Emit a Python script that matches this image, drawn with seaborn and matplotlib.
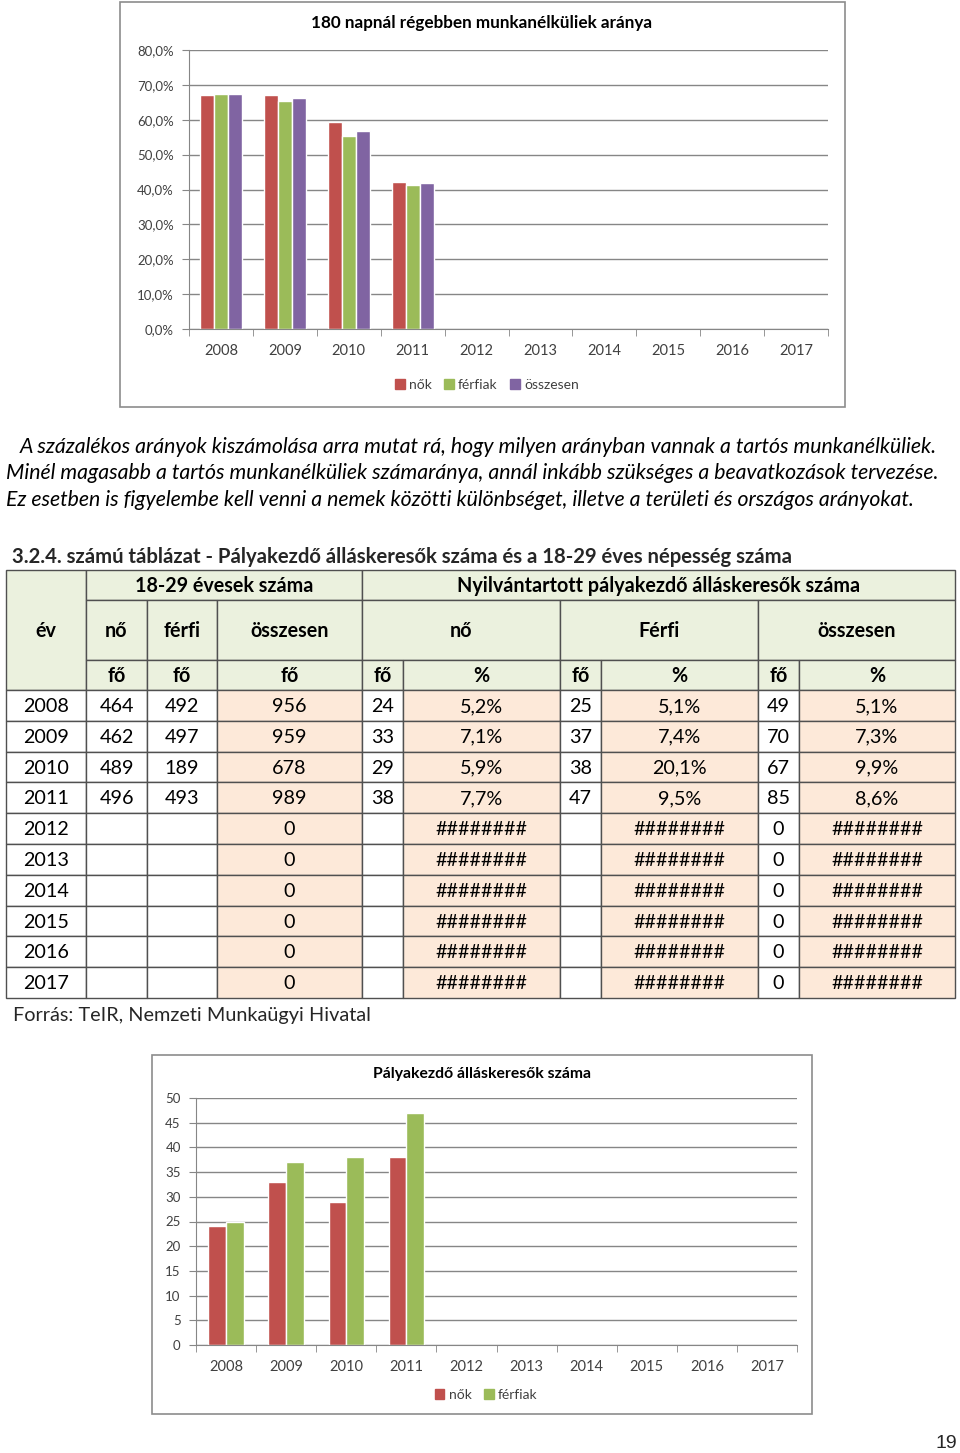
import numpy as np
import pandas as pd
import matplotlib
matplotlib.use('Agg')
import matplotlib.pyplot as plt
import seaborn as sns
from matplotlib.patches import Rectangle, Patch
from matplotlib.ticker import FuncFormatter

# DATA
years = ['2008', '2009', '2010', '2011', '2012', '2013', '2014', '2015', '2016', '2017']
data_years = years[:4]

# 180 napnal regebben munkanelkuliek aranya (%)
tartos_nok = [67.1, 67.0, 59.3, 42.2]
tartos_ferfiak = [67.5, 65.4, 55.2, 41.4]
tartos_osszesen = [67.4, 66.2, 56.9, 41.9]

# 18-29 evesek szama
nep_no = [464, 462, 489, 496]
nep_ferfi = [492, 497, 189, 493]
nep_osszesen = [956, 959, 678, 989, 0, 0, 0, 0, 0, 0]

# palyakezdo allaskeresok
pk_no = [24, 33, 29, 38]
pk_no_pct = [5.2, 7.1, 5.9, 7.7]
pk_ferfi = [25, 37, 38, 47]
pk_ferfi_pct = [5.1, 7.4, 20.1, 9.5]
pk_osszesen = [49, 70, 67, 85, 0, 0, 0, 0, 0, 0]
pk_osszesen_pct = [5.1, 7.3, 9.9, 8.6]

RED = '#C0504D'
GREEN = '#9BBB59'
PURPLE = '#8064A2'
GRAY = '#868686'
TXT = '#404040'

sns.set_style('white')
plt.rcParams['font.family'] = ['Lato', 'DejaVu Sans']

W, H = 960, 1453
fig = plt.figure(figsize=(W / 100, H / 100), dpi=100)

# page layer in pixel coordinates
page = fig.add_axes([0, 0, 1, 1])
page.set_xlim(0, W)
page.set_ylim(H, 0)
page.axis('off')


def chart(left, right, top, bottom, df, series, colors, ymax, ystep, fmt, width):
    ax = fig.add_axes([left / W, 1 - bottom / H, (right - left) / W, (bottom - top) / H])
    sns.barplot(data=df, x='ev', y='ertek', hue='sorozat', order=years, hue_order=series,
                palette=colors, saturation=1, width=width, errorbar=None, ax=ax, legend=False)
    ax.set_xlim(-0.5, len(years) - 0.5)
    ax.set_ylim(0, ymax)
    ax.set_yticks(np.arange(0, ymax + ystep / 2, ystep))
    ax.yaxis.set_major_formatter(FuncFormatter(fmt))
    ax.set_xticks(np.arange(-0.5, len(years)), minor=True)
    ax.tick_params(axis='x', which='major', length=0, pad=11, labelsize=10.5, labelcolor=TXT)
    ax.tick_params(axis='x', which='minor', length=5, color=GRAY, direction='out', bottom=True)
    ax.tick_params(axis='y', length=5, color=GRAY, direction='out', left=True,
                   labelsize=9.5, labelcolor=TXT, pad=6)
    ax.yaxis.grid(True, color=GRAY, lw=1)
    ax.set_axisbelow(True)
    for s in ['top', 'right']:
        ax.spines[s].set_visible(False)
    for s in ['left', 'bottom']:
        ax.spines[s].set_color(GRAY)
    ax.set_xlabel('')
    ax.set_ylabel('')
    return ax


# ---- chart 1
df1 = pd.DataFrame({
    'ev': data_years * 3,
    'ertek': tartos_nok + tartos_ferfiak + tartos_osszesen,
    'sorozat': ['nők'] * 4 + ['férfiak'] * 4 + ['összesen'] * 4,
})
page.add_patch(Rectangle((120, 2), 725, 405, fc='white', ec='#8c8c8c', lw=1.2))
chart(189, 828, 50, 329, df1, ['nők', 'férfiak', 'összesen'], [RED, GREEN, PURPLE],
      80, 10, lambda v, p: f'{v:.1f}%'.replace('.', ','), 0.66)
page.text(482, 23, '180 napnál régebben munkanélküliek aránya', ha='center', va='center',
          fontsize=12.3, fontweight='bold', color='black')
fig.legend([Patch(color=c) for c in [RED, GREEN, PURPLE]], ['nők', 'férfiak', 'összesen'],
           loc='center', bbox_to_anchor=(487 / W, 1 - 385 / H), ncol=3, frameon=False,
           handlelength=0.7, handleheight=0.7, handletextpad=0.3, columnspacing=0.9,
           fontsize=10, labelcolor=TXT)

# ---- paragraph
par = [
    (20, 447, 'A százalékos arányok kiszámolása arra mutat rá, hogy milyen arányban vannak a tartós munkanélküliek.'),
    (6, 473, 'Minél magasabb a tartós munkanélküliek számaránya, annál inkább szükséges a beavatkozások tervezése.'),
    (6, 500, 'Ez esetben is figyelembe kell venni a nemek közötti különbséget, illetve a területi és országos arányokat.'),
]
for x, y, s in par:
    page.text(x, y, s, ha='left', va='center', fontsize=15.3, style='italic', color='black')

# ---- table
page.text(12, 557, '3.2.4. számú táblázat - Pályakezdő álláskeresők száma és a 18-29 éves népesség száma',
          ha='left', va='center', fontsize=14.6, fontweight='bold')

HEAD = '#EBF1DE'
PEACH = '#FDE9D9'
LINE = '#505050'
cx = [6, 86, 147, 217, 362, 403, 560, 601, 758, 799, 955]


def cell(x0, x1, y0, y1, fc, s='', bold=False):
    page.add_patch(Rectangle((x0, y0), x1 - x0, y1 - y0, fc=fc, ec=LINE, lw=1))
    if s != '':
        page.text((x0 + x1) / 2, (y0 + y1) / 2 + 1, s, ha='center', va='center',
                  fontsize=14.2, fontweight='bold' if bold else 'normal', color='black')


cell(cx[0], cx[1], 570, 690, HEAD, 'év', True)
cell(cx[1], cx[4], 570, 600, HEAD, '18-29 évesek száma', True)
cell(cx[4], cx[10], 570, 600, HEAD, 'Nyilvántartott pályakezdő álláskeresők száma', True)
for (a, b), s in zip([(1, 2), (2, 3), (3, 4), (4, 6), (6, 8), (8, 10)],
                     ['nő', 'férfi', 'összesen', 'nő', 'Férfi', 'összesen']):
    cell(cx[a], cx[b], 600, 660, HEAD, s, True)
for i, s in enumerate(['fő', 'fő', 'fő', 'fő', '%', 'fő', '%', 'fő', '%']):
    cell(cx[i + 1], cx[i + 2], 660, 690, HEAD, s, True)


def num(lst, i):
    return str(lst[i]) if i < len(lst) else ''


def pct(lst, i):
    return f'{lst[i]:.1f}%'.replace('.', ',') if i < len(lst) else '########'


row_h = (998 - 690) / len(years)
for i, yr in enumerate(years):
    y0 = 690 + i * row_h
    y1 = y0 + row_h
    vals = [yr, num(nep_no, i), num(nep_ferfi, i), num(nep_osszesen, i),
            num(pk_no, i), pct(pk_no_pct, i), num(pk_ferfi, i), pct(pk_ferfi_pct, i),
            num(pk_osszesen, i), pct(pk_osszesen_pct, i)]
    for j, v in enumerate(vals):
        fc = PEACH if j in (3, 5, 7, 9) else 'white'
        cell(cx[j], cx[j + 1], y0, y1, fc, v)

page.text(13, 1015, 'Forrás: TeIR, Nemzeti Munkaügyi Hivatal', ha='left', va='center', fontsize=14.3)

# ---- chart 2
df2 = pd.DataFrame({
    'ev': data_years * 2,
    'ertek': pk_no + pk_ferfi,
    'sorozat': ['nők'] * 4 + ['férfiak'] * 4,
})
page.add_patch(Rectangle((152, 1055), 660, 359, fc='white', ec='#8c8c8c', lw=1.2))
chart(196, 797, 1098, 1345, df2, ['nők', 'férfiak'], [RED, GREEN],
      50, 5, lambda v, p: f'{v:.0f}', 0.59)
page.text(482, 1074, 'Pályakezdő álláskeresők száma', ha='center', va='center',
          fontsize=11.3, fontweight='bold', color='black')
fig.legend([Patch(color=c) for c in [RED, GREEN]], ['nők', 'férfiak'],
           loc='center', bbox_to_anchor=(486 / W, 1 - 1395 / H), ncol=2, frameon=False,
           handlelength=0.7, handleheight=0.7, handletextpad=0.3, columnspacing=0.9,
           fontsize=10, labelcolor=TXT)

page.text(957, 1443, '19', ha='right', va='center', fontsize=14,
          family=['Liberation Sans', 'DejaVu Sans'])

fig.savefig('out.png', dpi=100)
